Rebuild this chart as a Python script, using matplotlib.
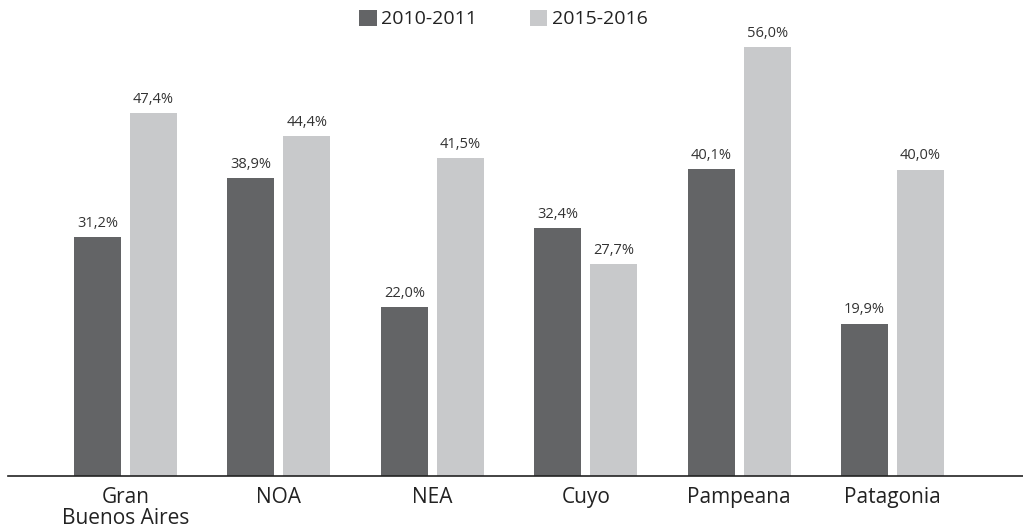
import matplotlib
matplotlib.use("Agg")
import matplotlib.pyplot as plt
import numpy as np

categories = ["Gran\nBuenos Aires", "NOA", "NEA", "Cuyo", "Pampeana", "Patagonia"]
series_names = ["2010-2011", "2015-2016"]
values_2010 = [31.2, 38.9, 22.0, 32.4, 40.1, 19.9]
values_2015 = [47.4, 44.4, 41.5, 27.7, 56.0, 40.0]

dark = "#636466"
light = "#c8c9cb"

plt.rcParams['font.family'] = ['Open Sans', 'DejaVu Sans']

fig = plt.figure(figsize=(10.23, 5.30), dpi=100)
ax = fig.add_axes([8/1023, (530-476)/530, 1015/1023, (476-16.4)/530])

x = np.arange(len(categories))
w = 0.306
off = 0.1825
b1 = ax.bar(x - off, values_2010, w, color=dark, label=series_names[0])
b2 = ax.bar(x + off, values_2015, w, color=light, label=series_names[1])

def fmt(v):
    return f"{v:.1f}%".replace(".", ",")

for bars, vals in ((b1, values_2010), (b2, values_2015)):
    for r, v in zip(bars, vals):
        ax.annotate(fmt(v), (r.get_x() + r.get_width() / 2, v), xytext=(0, 4.5),
                    textcoords="offset points", ha="center", va="bottom",
                    fontsize=10.5, color="#333333")

ax.set_xlim(-0.766, 5.85)
ax.set_ylim(0, 60)
for s in ("top", "right", "left"):
    ax.spines[s].set_visible(False)
ax.spines["bottom"].set_color("#222222")
ax.spines["bottom"].set_linewidth(1.2)
ax.set_yticks([])
ax.set_xticks(x)
ax.set_xticklabels(categories, fontsize=15, color="#222222", linespacing=1.0)
ax.tick_params(axis="x", length=0, pad=8)

leg = fig.legend(handles=[b1, b2], labels=series_names, loc="center",
                 bbox_to_anchor=(503.5/1023, 1 - 19/530), ncol=2, frameon=False,
                 fontsize=14, handlelength=0.9, handleheight=0.9,
                 columnspacing=2.7, handletextpad=0.25)
for t in leg.get_texts():
    t.set_color("#222222")

fig.savefig("out.png", dpi=100)
